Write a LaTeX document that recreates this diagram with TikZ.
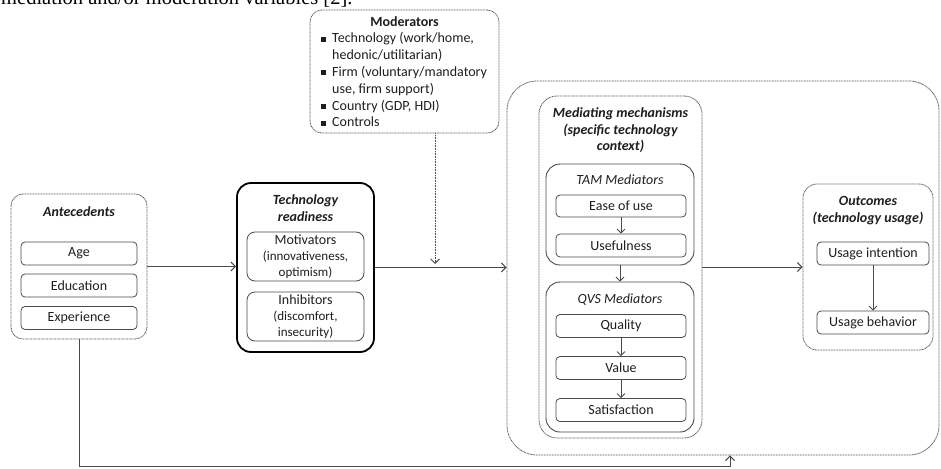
\documentclass[tikz,border=0pt]{standalone}
\usepackage{fontspec}
\setmainfont{Carlito}
\newfontfamily\serifface{Liberation Serif}
\usetikzlibrary{arrows.meta,calc}

\definecolor{ink}{HTML}{1E1E1E}
\definecolor{edge}{HTML}{4A4A4A}
\definecolor{dotc}{HTML}{5C5C5C}

\newcommand\sqbul{\rule[1.4pt]{4.8pt}{4.8pt}}

\tikzset{
  base/.style={font=\fontsize{14}{16.5}\selectfont, text=ink},
  dotbox/.style={draw=dotc, line width=0.8pt, dash pattern=on 1pt off 0.6pt,
    rounded corners=12pt, inner sep=0pt},
  itembox/.style={draw=edge, line width=0.8pt, rounded corners=4pt,
    minimum height=23pt, inner sep=0pt, align=center},
  groupbox/.style={draw=edge, line width=0.9pt, rounded corners=14pt, inner sep=0pt},
  flow/.style={draw=edge, line width=1pt, -{Straight Barb[length=4.5pt,width=9pt]}},
  subflow/.style={draw=edge, line width=0.8pt, -{Straight Barb[length=4pt,width=8pt]}},
  title/.style={font=\fontsize{14}{16.5}\selectfont\bfseries\itshape, align=center, inner sep=0pt},
  subtitle/.style={font=\fontsize{14}{16.5}\selectfont\itshape, inner sep=0pt},
  twolevel/.style={font=\fontsize{13}{16}\selectfont},
}

\begin{document}
\begin{tikzpicture}[x=1pt, y=-1pt, base]
\clip (0,0) rectangle (941,468);

% running text of the page above the figure
\node[anchor=base west, font=\serifface\fontsize{20.5}{24}\selectfont, inner sep=0pt, text=black]
  (caption) at (1,4.5) {mediation and/or moderation variables [2].};

% antecedents
\node[dotbox, minimum width=136pt, minimum height=145pt] (ante) at (79,266.5) {};
\node[title] (anteT) at (79,212) {Antecedents};
\node[itembox, minimum width=116pt] (age) at (79,253.5) {Age};
\node[itembox, minimum width=116pt] (edu) at (79,285.5) {Education};
\node[itembox, minimum width=116pt] (exp) at (79,318) {Experience};

% technology readiness
\node[draw=black, line width=1.8pt, rounded corners=14pt, minimum width=137pt,
  minimum height=169pt, inner sep=0pt] (tr) at (305.5,267.5) {};
\node[title] (trT) at (305.5,208) {Technology\\readiness};
\node[itembox, twolevel, rounded corners=8pt, minimum width=117pt, minimum height=49pt]
  (motiv) at (305.5,256.5) {{\fontsize{14}{16}\selectfont Motivators}\\(innovativeness,\\optimism)};
\node[itembox, twolevel, rounded corners=8pt, minimum width=117pt, minimum height=49pt]
  (inhib) at (305.5,316.5) {{\fontsize{14}{16}\selectfont Inhibitors}\\(discomfort,\\insecurity)};

% moderators
\node[dotbox, minimum width=189pt, minimum height=123pt] (mod) at (404.5,71.5) {};
\node[font=\fontsize{14}{16.5}\selectfont\bfseries, inner sep=0pt] (modT) at (404.5,22) {Moderators};
\node[anchor=north west, inner sep=0pt, font=\fontsize{14}{16.8}\selectfont] (modL) at (321,31)
  {\begin{tabular}{@{}l@{\hspace{6.2pt}}l@{}}
   \sqbul & Technology (work/home,\\
          & hedonic/utilitarian)\\
   \sqbul & Firm (voluntary/mandatory\\
          & use, firm support)\\
   \sqbul & Country (GDP, HDI)\\
   \sqbul & Controls
   \end{tabular}};

% mediating mechanisms and outcomes
\node[dotbox, rounded corners=30pt, minimum width=432pt, minimum height=374pt] (outer) at (723,268) {};
\node[dotbox, rounded corners=18pt, minimum width=163pt, minimum height=342pt] (medi) at (620.5,267) {};
\node[title] (mediT) at (620.5,130.5) {Mediating mechanisms\\(specific technology\\context)};

\node[groupbox, minimum width=148pt, minimum height=101pt] (tam) at (620,214.5) {};
\node[subtitle] (tamT) at (620,180) {TAM Mediators};
\node[itembox, minimum width=130pt, minimum height=22pt] (ease) at (621,206) {Ease of use};
\node[itembox, minimum width=130pt] (useful) at (621,245.5) {Usefulness};

\node[groupbox, minimum width=148pt, minimum height=150pt] (qvs) at (620,357) {};
\node[subtitle] (qvsT) at (620,300) {QVS Mediators};
\node[itembox, minimum width=130pt] (quality) at (621,326) {Quality};
\node[itembox, minimum width=130pt] (value) at (621,368) {Value};
\node[itembox, minimum width=130pt] (satis) at (621,410) {Satisfaction};

\node[dotbox, rounded corners=14pt, minimum width=130pt, minimum height=166pt] (outc) at (868,267) {};
\node[title] (outcT) at (868,210.5) {Outcomes\\(technology usage)};
\node[itembox, minimum width=112pt] (intent) at (873,253.5) {Usage intention};
\node[itembox, minimum width=112pt] (behav) at (873,322.5) {Usage behavior};

% connectors
\coordinate (join) at (435,264);
\coordinate (feed) at (730,466);
\draw[flow] (ante.east) -- (ante.east -| tr.west);
\draw[flow] (tr.east) -- (tr.east -| outer.west);
\draw[flow, dash pattern=on 1pt off 0.6pt, line width=0.9pt] (mod.south -| join) -- (join);
\draw[flow] (medi.east) -- (medi.east -| outc.west);
\draw[flow] (ante.south) |- (feed) -- (feed |- outer.south);

\draw[subflow] (ease) -- (useful);
\draw[subflow] (tam) -- (qvs);
\draw[subflow] (quality) -- (value);
\draw[subflow] (value) -- (satis);
\draw[subflow] (intent) -- (behav);
\end{tikzpicture}
\end{document}
